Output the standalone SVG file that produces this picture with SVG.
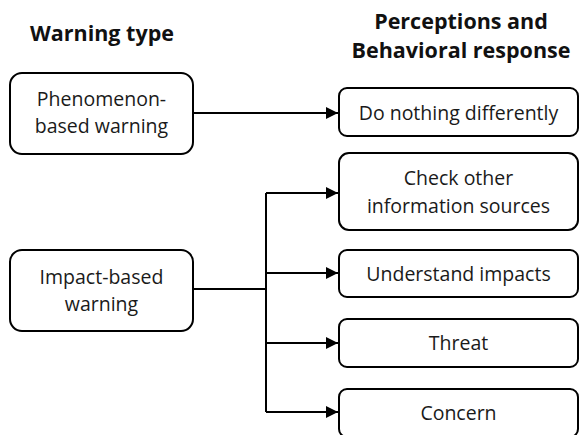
<svg xmlns="http://www.w3.org/2000/svg" width="580" height="435" viewBox="0 0 580 435">
<defs>
<style>
.box{fill:#fff;stroke:#000;stroke-width:2}
.t{font-family:"Open Sans","Liberation Sans",sans-serif;font-size:19.5px;fill:#1a1a1a;text-anchor:middle}
.h{font-family:"Open Sans","Liberation Sans",sans-serif;font-size:21.5px;font-weight:bold;fill:#111;text-anchor:middle}
.c{fill:none;stroke:#000;stroke-width:2}
</style>
<marker id="ah" viewBox="0 0 10 10" refX="10" refY="5" markerWidth="6.5" markerHeight="6" orient="auto" markerUnits="strokeWidth">
<path d="M0,0 L10,5 L0,10 z" fill="#000"/>
</marker>
</defs>
<rect width="580" height="435" fill="#fff"/>
<text class="h" x="102" y="41">Warning type</text>
<text class="h" x="461" y="29">Perceptions and</text>
<text class="h" x="461" y="58">Behavioral response</text>
<g id="connectors">
<path class="c" d="M193,113 H338" marker-end="url(#ah)"/>
<path class="c" d="M193,289 H266"/>
<path class="c" d="M266,193 V412"/>
<path class="c" d="M266,193 H338" marker-end="url(#ah)"/>
<path class="c" d="M266,273 H338" marker-end="url(#ah)"/>
<path class="c" d="M266,343 H338" marker-end="url(#ah)"/>
<path class="c" d="M266,412 H338" marker-end="url(#ah)"/>
</g>
<g id="phenomenon">
<rect class="box" x="10" y="73" width="183" height="81" rx="12"/>
<text class="t" x="101.5" y="106">Phenomenon-</text>
<text class="t" x="101.5" y="133">based warning</text>
</g>
<g id="impact">
<rect class="box" x="10" y="250" width="183" height="81" rx="12"/>
<text class="t" x="101.5" y="284">Impact-based</text>
<text class="t" x="101.5" y="311">warning</text>
</g>
<g id="nothing">
<rect class="box" x="339" y="88" width="239" height="48" rx="8"/>
<text class="t" x="458.5" y="120">Do nothing differently</text>
</g>
<g id="check">
<rect class="box" x="339" y="153" width="239" height="77" rx="10"/>
<text class="t" x="458.5" y="185">Check other</text>
<text class="t" x="458.5" y="213">information sources</text>
</g>
<g id="understand">
<rect class="box" x="339" y="250" width="239" height="47" rx="8"/>
<text class="t" x="458.5" y="281">Understand impacts</text>
</g>
<g id="threat">
<rect class="box" x="339" y="319" width="239" height="48" rx="8"/>
<text class="t" x="458.5" y="350">Threat</text>
</g>
<g id="concern">
<rect class="box" x="339" y="389" width="239" height="48" rx="8"/>
<text class="t" x="458.5" y="420">Concern</text>
</g>
</svg>
